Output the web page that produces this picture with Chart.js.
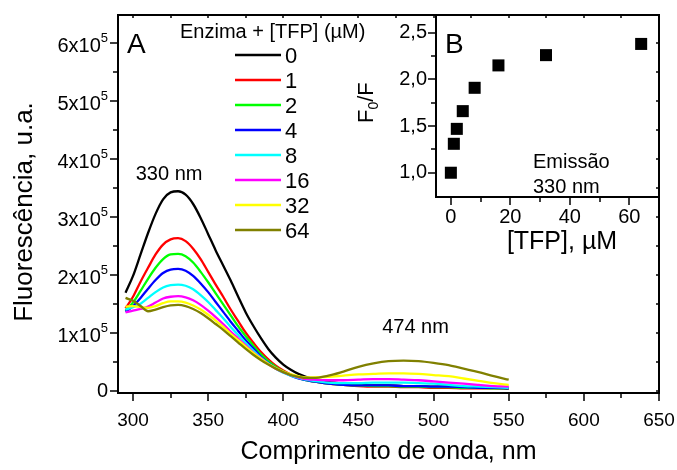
<!DOCTYPE html>
<html>
<head>
<meta charset="utf-8">
<script src="https://cdn.jsdelivr.net/npm/chart.js@4.4.1/dist/chart.umd.min.js"></script>
<style>
  html, body { margin: 0; padding: 0; background: #fff; }
  #wrap { position: relative; width: 677px; height: 470px; }
  #main { position: absolute; left: 0; top: 0; }
  #inset { position: absolute; left: 340px; top: 0; }
</style>
</head>
<body>
<div id="wrap">
  <canvas id="main" width="677" height="470"></canvas>
  <canvas id="inset" width="337" height="265"></canvas>
</div>
<script>
// emission spectra, intensity in units of 10^5
const wavelength = [295, 300, 305, 310, 315, 320, 325, 330, 335, 340, 345, 350, 355, 360, 365, 370, 375, 380, 385, 390,
  395, 400, 405, 410, 415, 420, 430, 440, 450, 460, 470, 480, 490, 500, 510, 520, 530, 540, 550];

const tfp0 = [1.69, 1.98, 2.35, 2.72, 3.05, 3.30, 3.42, 3.44, 3.38, 3.22, 2.98, 2.70, 2.42, 2.16, 1.90, 1.62, 1.35, 1.12, 0.91, 0.72,
  0.57, 0.45, 0.36, 0.29, 0.24, 0.20, 0.15, 0.12, 0.10, 0.09, 0.09, 0.08, 0.08, 0.07, 0.07, 0.06, 0.06, 0.05, 0.05];
const tfp1 = [1.42, 1.62, 1.88, 2.12, 2.35, 2.52, 2.61, 2.63, 2.58, 2.45, 2.27, 2.05, 1.83, 1.62, 1.40, 1.20, 1.00, 0.83, 0.67, 0.54,
  0.43, 0.35, 0.28, 0.23, 0.19, 0.16, 0.12, 0.10, 0.08, 0.07, 0.07, 0.06, 0.06, 0.05, 0.05, 0.04, 0.04, 0.04, 0.03];
const tfp2 = [1.38, 1.52, 1.72, 1.93, 2.12, 2.27, 2.35, 2.36, 2.32, 2.21, 2.05, 1.87, 1.68, 1.49, 1.30, 1.11, 0.94, 0.78, 0.63, 0.51,
  0.41, 0.33, 0.27, 0.22, 0.18, 0.16, 0.12, 0.10, 0.09, 0.08, 0.08, 0.07, 0.07, 0.06, 0.06, 0.05, 0.05, 0.04, 0.04];
const tfp4 = [1.36, 1.46, 1.60, 1.76, 1.91, 2.03, 2.09, 2.10, 2.07, 1.98, 1.85, 1.70, 1.53, 1.36, 1.19, 1.03, 0.87, 0.73, 0.59, 0.48,
  0.39, 0.32, 0.26, 0.21, 0.18, 0.16, 0.12, 0.10, 0.09, 0.09, 0.09, 0.08, 0.08, 0.07, 0.07, 0.06, 0.05, 0.05, 0.04];
const tfp8 = [1.40, 1.44, 1.50, 1.60, 1.70, 1.78, 1.82, 1.83, 1.81, 1.75, 1.65, 1.53, 1.39, 1.25, 1.10, 0.96, 0.82, 0.69, 0.57, 0.47,
  0.38, 0.31, 0.26, 0.22, 0.19, 0.17, 0.14, 0.13, 0.13, 0.14, 0.14, 0.14, 0.13, 0.12, 0.10, 0.08, 0.07, 0.06, 0.05];
const tfp16 = [1.35, 1.38, 1.41, 1.45, 1.52, 1.59, 1.62, 1.63, 1.61, 1.56, 1.48, 1.38, 1.27, 1.15, 1.02, 0.90, 0.78, 0.66, 0.56, 0.46,
  0.38, 0.32, 0.27, 0.23, 0.20, 0.19, 0.18, 0.18, 0.19, 0.20, 0.20, 0.19, 0.18, 0.16, 0.14, 0.12, 0.10, 0.08, 0.07];
const tfp32 = [1.45, 1.46, 1.44, 1.43, 1.46, 1.51, 1.54, 1.54, 1.52, 1.47, 1.40, 1.31, 1.21, 1.10, 0.98, 0.87, 0.76, 0.65, 0.55, 0.46,
  0.39, 0.33, 0.28, 0.25, 0.23, 0.23, 0.24, 0.26, 0.28, 0.29, 0.30, 0.30, 0.29, 0.27, 0.25, 0.21, 0.17, 0.13, 0.10];
const tfp64 = [1.60, 1.55, 1.46, 1.37, 1.40, 1.44, 1.47, 1.48, 1.46, 1.41, 1.34, 1.25, 1.15, 1.05, 0.94, 0.83, 0.72, 0.62, 0.53, 0.45,
  0.38, 0.32, 0.27, 0.24, 0.22, 0.22, 0.26, 0.33, 0.41, 0.47, 0.51, 0.52, 0.51, 0.48, 0.44, 0.38, 0.32, 0.25, 0.19];

const seriesLabels = ['0', '1', '2', '4', '8', '16', '32', '64'];
const seriesColors = ['#000000', '#ff0000', '#00ff00', '#0000ff', '#00ffff', '#ff00ff', '#ffff00', '#808000'];
const spectra = [tfp0, tfp1, tfp2, tfp4, tfp8, tfp16, tfp32, tfp64];

// inset: F0/F at 330 nm
const tfpConc = [0, 1, 2, 4, 8, 16, 32, 64];
const f0OverF = [1.00, 1.31, 1.47, 1.66, 1.91, 2.15, 2.26, 2.38];

const yTickLabels = ['0', '1x10', '2x10', '3x10', '4x10', '5x10', '6x10'];

const FONT = '"Liberation Sans", Arial, Helvetica, sans-serif';
Chart.defaults.font.family = FONT;
Chart.defaults.color = '#000';

const mainDecor = {
  id: 'mainDecor',
  afterDraw(chart) {
    const { ctx, chartArea: a, scales: { x, y } } = chart;
    ctx.save();
    ctx.strokeStyle = '#000';
    ctx.lineWidth = 2;
    ctx.strokeRect(a.left, a.top, a.right - a.left, a.bottom - a.top);

    // ticks, outward on left/bottom, short inward on top/right
    ctx.lineWidth = 1.5;
    ctx.beginPath();
    for (let v = 300; v <= 650; v += 25) {
      const px = Math.round(x.getPixelForValue(v));
      const len = v % 50 === 0 ? 8 : 5;
      ctx.moveTo(px, a.bottom); ctx.lineTo(px, a.bottom + len);
      ctx.moveTo(px, a.top); ctx.lineTo(px, a.top + 3);
    }
    for (let v = 0; v <= 6; v += 0.5) {
      const py = Math.round(y.getPixelForValue(v));
      const len = v % 1 === 0 ? 8 : 5;
      ctx.moveTo(a.left - len, py); ctx.lineTo(a.left, py);
      ctx.moveTo(a.right - 3, py); ctx.lineTo(a.right, py);
    }
    ctx.stroke();

    // y tick labels with superscript exponent
    ctx.fillStyle = '#000';
    yTickLabels.forEach((lab, i) => {
      const py = y.getPixelForValue(i);
      const xr = a.left - 10;
      ctx.font = '20px ' + FONT;
      if (i === 0) {
        ctx.textAlign = 'right'; ctx.textBaseline = 'middle';
        ctx.fillText(lab, xr, py + 1);
        return;
      }
      ctx.font = '13px ' + FONT;
      const wSup = ctx.measureText('5').width;
      ctx.textAlign = 'right'; ctx.textBaseline = 'alphabetic';
      ctx.fillText('5', xr, py - 1);
      ctx.font = '20px ' + FONT;
      ctx.fillText(lab, xr - wSup, py + 9);
    });

    // axis titles
    ctx.font = '25px ' + FONT;
    ctx.textAlign = 'center'; ctx.textBaseline = 'middle';
    ctx.fillText('Comprimento de onda, nm', (a.left + a.right) / 2, 452);
    ctx.save();
    ctx.translate(25, 212);
    ctx.rotate(-Math.PI / 2);
    ctx.font = '26px ' + FONT;
    ctx.fillText('Fluorescência, u.a.', 0, 0);
    ctx.restore();

    // legend
    ctx.textAlign = 'left'; ctx.textBaseline = 'alphabetic';
    ctx.font = '20px ' + FONT;
    ctx.fillText('Enzima + [TFP] (\u00b5M)', 180, 38);
    ctx.font = '22px ' + FONT;
    ctx.textBaseline = 'middle';
    seriesLabels.forEach((lab, i) => {
      const ly = 55 + i * 25;
      ctx.strokeStyle = seriesColors[i];
      ctx.lineWidth = 2.5;
      ctx.beginPath(); ctx.moveTo(235, ly); ctx.lineTo(281, ly); ctx.stroke();
      ctx.fillText(lab, 285, ly + 2);
    });

    // annotations
    ctx.font = '28px ' + FONT;
    ctx.textBaseline = 'alphabetic';
    ctx.fillText('A', 127, 53);
    ctx.font = '20px ' + FONT;
    ctx.textAlign = 'center';
    ctx.fillText('330 nm', x.getPixelForValue(324), 180);
    ctx.fillText('474 nm', x.getPixelForValue(488), 333);
    ctx.restore();
  }
};

new Chart(document.getElementById('main'), {
  type: 'line',
  data: {
    datasets: spectra.map((s, i) => ({
      label: seriesLabels[i],
      data: wavelength.map((w, j) => ({ x: w, y: s[j] })),
      borderColor: seriesColors[i],
      borderWidth: 2.3,
      pointRadius: 0,
      fill: false,
      cubicInterpolationMode: 'monotone',
      order: seriesLabels.length - i
    }))
  },
  options: {
    responsive: false,
    animation: false,
    devicePixelRatio: 1,
    layout: { padding: { top: 15, right: 18, left: 0, bottom: 0 } },
    plugins: { legend: { display: false }, tooltip: { enabled: false } },
    scales: {
      x: {
        type: 'linear', min: 290, max: 650,
        grid: { display: false }, border: { display: false },
        ticks: { stepSize: 50, includeBounds: false, maxRotation: 0, padding: 8, font: { size: 19 }, color: '#000' },
        afterFit(s) { s.height = 77; s.paddingLeft = 0; s.paddingRight = 0; }
      },
      y: {
        type: 'linear', min: -0.04, max: 6.48,
        grid: { display: false }, border: { display: false },
        ticks: { display: false },
        afterFit(s) { s.width = 118; s.paddingTop = 0; s.paddingBottom = 0; }
      }
    }
  },
  plugins: [mainDecor]
});

const insetDecor = {
  id: 'insetDecor',
  afterDraw(chart) {
    const { ctx, chartArea: a, scales: { x, y } } = chart;
    ctx.save();
    ctx.strokeStyle = '#000';
    ctx.lineWidth = 2;
    ctx.strokeRect(a.left, a.top, a.right - a.left, a.bottom - a.top);
    ctx.lineWidth = 1.5;
    ctx.beginPath();
    for (let v = 0; v <= 60; v += 10) {
      const px = Math.round(x.getPixelForValue(v));
      const len = v % 20 === 0 ? 8 : 5;
      ctx.moveTo(px, a.bottom); ctx.lineTo(px, a.bottom + len);
    }
    for (let v = 1; v <= 2.5; v += 0.25) {
      const py = Math.round(y.getPixelForValue(v));
      const len = Math.abs(v * 2 - Math.round(v * 2)) < 1e-6 ? 8 : 5;
      ctx.moveTo(a.left - len, py); ctx.lineTo(a.left, py);
    }
    ctx.stroke();

    ctx.fillStyle = '#000';
    ctx.textAlign = 'center'; ctx.textBaseline = 'alphabetic';
    ctx.font = '25px ' + FONT;
    ctx.fillText('[TFP], \u00b5M', 562 - 340, 249);

    // rotated F0/F
    ctx.save();
    ctx.translate(373 - 340, 123);
    ctx.rotate(-Math.PI / 2);
    ctx.textAlign = 'left';
    ctx.font = '22px ' + FONT;
    ctx.fillText('F', 0, 0);
    let w = ctx.measureText('F').width;
    ctx.font = '14px ' + FONT;
    ctx.fillText('0', w, 5);
    w += ctx.measureText('0').width;
    ctx.font = '22px ' + FONT;
    ctx.fillText('/F', w, 0);
    ctx.restore();

    ctx.textAlign = 'left';
    ctx.font = '28px ' + FONT;
    ctx.fillText('B', a.left + 9, 53);
    ctx.font = '20px ' + FONT;
    ctx.fillText('Emiss\u00e3o', 533 - 340, 168);
    ctx.fillText('330 nm', 533 - 340, 193);
    ctx.restore();
  }
};

new Chart(document.getElementById('inset'), {
  type: 'scatter',
  data: {
    datasets: [{
      data: tfpConc.map((c, i) => ({ x: c, y: f0OverF[i] })),
      pointStyle: 'rect',
      pointRadius: 8.5,
      backgroundColor: '#000',
      borderWidth: 0
    }]
  },
  options: {
    responsive: false,
    animation: false,
    devicePixelRatio: 1,
    layout: { padding: { top: 15, right: 18, left: 0, bottom: 0 } },
    plugins: { legend: { display: false }, tooltip: { enabled: false } },
    scales: {
      x: {
        type: 'linear', min: -5, max: 70,
        grid: { display: false }, border: { display: false },
        ticks: { stepSize: 20, includeBounds: false, maxRotation: 0, padding: 0, font: { size: 20 }, color: '#000' },
        afterFit(s) { s.height = 68; s.paddingLeft = 0; s.paddingRight = 0; }
      },
      y: {
        type: 'linear', min: 0.74, max: 2.69,
        grid: { display: false }, border: { display: false },
        ticks: {
          stepSize: 0.5, includeBounds: false, padding: 1, font: { size: 20 }, color: '#000',
          callback: (v) => v.toFixed(1).replace('.', ',')
        },
        afterFit(s) { s.width = 96; s.paddingTop = 0; s.paddingBottom = 0; }
      }
    }
  },
  plugins: [insetDecor]
});
</script>
</body>
</html>
